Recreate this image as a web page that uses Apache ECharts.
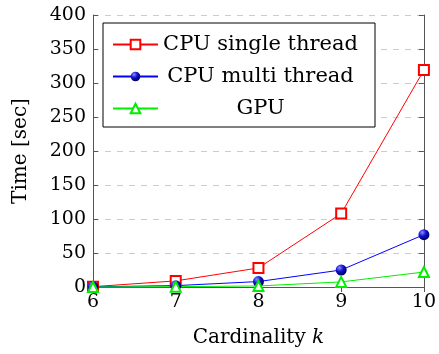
<!DOCTYPE html>
<html>
<head>
<meta charset="utf-8">
<script src="https://cdn.jsdelivr.net/npm/echarts@6/dist/echarts.min.js"></script>
<style>
  html, body { margin: 0; padding: 0; background: #fff; }
  #chart { width: 439px; height: 354px; }
</style>
</head>
<body>
<div id="chart"></div>
<script>
  var cardinality = [6, 7, 8, 9, 10]
  var cpuSingle = [0.5, 9, 28, 108, 319]
  var cpuMulti = [0.3, 2, 8, 25, 77]
  var gpu = [0.1, 0.5, 1.5, 7.5, 22]
  var seriesNames = ['CPU single thread', 'CPU multi thread', 'GPU']

  var font = 'DejaVu Serif'
  var legendSize = 21
  function pairs (vals) {
    return cardinality.map(function (k, i) { return [k, vals[i]] })
  }

  // legend text is centred in a column as wide as the longest entry
  var ctx = document.createElement('canvas').getContext('2d')
  ctx.font = legendSize + 'px "' + font + '"'
  var colW = Math.ceil(Math.max.apply(null, seriesNames.map(function (n) { return ctx.measureText(n).width })))

  var chart = echarts.init(document.getElementById('chart'))
  var frame = { lineStyle: { color: '#555', width: 1 } }
  var tick = { show: true, inside: true, length: 5, lineStyle: { color: '#555' } }

  var option = {
    animation: false,
    grid: { left: 93, right: 11, top: 15, bottom: 67 },
    legend: {
      orient: 'vertical',
      left: 103,
      top: 23,
      padding: [11, 377 - 103 - 9 - 45 - 8 - colW, 8, 9],
      itemGap: 11,
      itemWidth: 45,
      itemHeight: 12,
      backgroundColor: '#fff',
      borderColor: '#000',
      borderWidth: 1,
      data: seriesNames,
      formatter: function (name) { return '{c|' + name + '}' },
      textStyle: {
        rich: {
          c: { fontFamily: font, fontSize: legendSize, color: '#000', lineHeight: 20, width: colW, align: 'center' }
        }
      }
    },
    xAxis: [{
      type: 'value', min: 6, max: 10, interval: 1,
      axisLine: frame, axisTick: tick, splitLine: { show: false },
      axisLabel: { fontFamily: font, fontSize: 19, color: '#000', margin: 6 },
      name: '{n|Cardinality }{k|k}',
      nameLocation: 'middle', nameGap: 41,
      nameTextStyle: {
        rich: {
          n: { fontFamily: font, fontSize: 20, color: '#000' },
          k: { fontFamily: font, fontSize: 20, color: '#000', fontStyle: 'italic' }
        }
      }
    }, {
      type: 'value', position: 'top', min: 6, max: 10, interval: 1,
      axisLine: frame, axisTick: tick, axisLabel: { show: false }, splitLine: { show: false }
    }],
    yAxis: [{
      type: 'value', min: 0, max: 400, interval: 50,
      axisLine: frame, axisTick: tick,
      axisLabel: { fontFamily: font, fontSize: 19, color: '#000', margin: 7 },
      splitLine: { show: true, lineStyle: { color: '#ccc', type: [6, 6] } },
      name: 'Time [sec]', nameLocation: 'middle', nameGap: 62,
      nameTextStyle: { fontFamily: font, fontSize: 20, color: '#000' }
    }, {
      type: 'value', position: 'right', min: 0, max: 400, interval: 50,
      axisLine: frame, axisTick: tick, axisLabel: { show: false }, splitLine: { show: false }
    }],
    series: [
      {
        name: seriesNames[0], type: 'line', data: pairs(cpuSingle), clip: false,
        symbol: 'emptyRect', symbolSize: 10, color: '#ff0000',
        lineStyle: { width: 1, color: '#ff0000' }
      },
      {
        name: seriesNames[1], type: 'line', data: pairs(cpuMulti), clip: false,
        symbol: 'circle', symbolSize: 11,
        itemStyle: {
          color: new echarts.graphic.RadialGradient(0.35, 0.3, 0.7, [
            { offset: 0, color: '#8c8cff' },
            { offset: 0.5, color: '#1010d0' },
            { offset: 1, color: '#000060' }
          ])
        },
        lineStyle: { width: 1, color: '#0000ff' }
      },
      {
        name: seriesNames[2], type: 'line', data: pairs(gpu), clip: false,
        symbol: 'emptyTriangle', symbolSize: 10, color: '#00ee00',
        lineStyle: { width: 1, color: '#00ee00' }
      }
    ]
  }
  chart.setOption(option)
</script>
</body>
</html>
